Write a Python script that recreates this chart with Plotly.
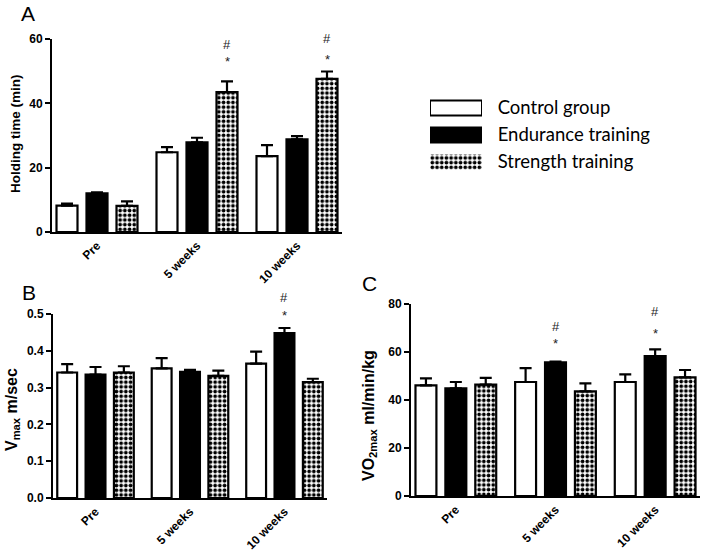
import plotly.graph_objects as go

W, H = 704, 557

categories = ["Pre", "5 weeks", "10 weeks"]
series_names = ["Control group", "Endurance training", "Strength training"]

# Panel A: holding time (min)
hold_control = [8.2, 24.8, 23.6]
hold_control_err = [0.6, 1.6, 3.4]
hold_endurance = [12.0, 27.9, 28.8]
hold_endurance_err = [0.3, 1.4, 1.0]
hold_strength = [8.1, 43.5, 47.6]
hold_strength_err = [1.4, 3.3, 2.3]

# Panel B: Vmax (m/sec)
vmax_control = [0.341, 0.352, 0.365]
vmax_control_err = [0.023, 0.028, 0.033]
vmax_endurance = [0.335, 0.343, 0.448]
vmax_endurance_err = [0.021, 0.005, 0.014]
vmax_strength = [0.341, 0.332, 0.315]
vmax_strength_err = [0.017, 0.014, 0.009]

# Panel C: VO2max (ml/min/kg)
vo2_control = [46.1, 47.5, 47.5]
vo2_control_err = [2.9, 5.8, 3.2]
vo2_endurance = [44.9, 55.7, 58.3]
vo2_endurance_err = [2.6, 0.3, 2.8]
vo2_strength = [46.4, 43.6, 49.4]
vo2_strength_err = [2.8, 3.3, 3.1]

# significance markers: (group index, series index, y of '*', y of '#')
sig_A = [(1, 2, 53.0, 58.4), (2, 2, 53.7, 60.2)]
sig_B = [(2, 1, 0.495, 0.546)]
sig_C = [(1, 1, 63.6, 70.5), (2, 1, 67.8, 76.8)]

fills = ["white", "black", "white"]
patterns = ["", "", "."]

TICKFONT = dict(family="Liberation Sans", size=12, color="black", weight="bold")
SIGFONT = dict(family="Liberation Sans", size=13, color="#222")

fig = go.Figure()

panels = [
    dict(ax="", vals=[hold_control, hold_endurance, hold_strength],
         errs=[hold_control_err, hold_endurance_err, hold_strength_err],
         px=(52, 342, 39, 232), yrange=[0, 60], dtick=20, fmt="",
         title="Holding time (min)", tsize=13.5, tpos=(15, 134), sig=sig_A),
    dict(ax="2", vals=[vmax_control, vmax_endurance, vmax_strength],
         errs=[vmax_control_err, vmax_endurance_err, vmax_strength_err],
         px=(53, 327, 314, 498), yrange=[0, 0.5], dtick=0.1, fmt=".1f",
         title="V<sub>max</sub> m/sec", tsize=16, tpos=(12, 410), sig=sig_B),
    dict(ax="3", vals=[vo2_control, vo2_endurance, vo2_strength],
         errs=[vo2_control_err, vo2_endurance_err, vo2_strength_err],
         px=(411, 700, 304, 496), yrange=[0, 80], dtick=20, fmt="",
         title="VO<sub>2max</sub> ml/min/kg", tsize=16, tpos=(369, 416), sig=sig_C),
]

offsets = [-0.3, 0.0, 0.3]

for p in panels:
    ax = p["ax"]
    x0, x1, y0, y1 = p["px"]
    for i in range(3):
        fig.add_trace(go.Bar(
            x=categories, y=p["vals"][i], name=series_names[i],
            xaxis="x" + ax, yaxis="y" + ax, showlegend=False,
            marker=dict(color=fills[i], line=dict(color="black", width=2.2),
                        pattern=dict(shape=patterns[i], fgcolor="black", bgcolor="white",
                                     size=4.7, solidity=0.5, fillmode="replace")),
            error_y=dict(type="data", array=p["errs"][i], arrayminus=[0] * 3,
                         symmetric=False, color="black", thickness=2.2, width=6),
        ))
    xa = dict(domain=[x0 / W, x1 / W], anchor="y" + ax, range=[-0.45, 2.45],
              showline=True, linecolor="black", linewidth=2, ticks="",
              tickangle=-45, tickfont=TICKFONT, showgrid=False, zeroline=False,
              type="category", automargin=False)
    ya = dict(domain=[1 - y1 / H, 1 - y0 / H], anchor="x" + ax, range=p["yrange"],
              dtick=p["dtick"], tickformat=p["fmt"], showline=True, linecolor="black",
              linewidth=2, ticks="outside", ticklen=5, tickwidth=2, tickcolor="black",
              tickfont=TICKFONT, showgrid=False, zeroline=False, automargin=False)
    fig.layout["xaxis" + ax] = xa
    fig.layout["yaxis" + ax] = ya
    tx, ty = p["tpos"]
    fig.add_annotation(x=tx / W, y=1 - ty / H, xref="paper", yref="paper",
                       text=p["title"], textangle=-90, showarrow=False,
                       xanchor="center", yanchor="middle",
                       font=dict(family="Liberation Sans", size=p["tsize"], color="black",
                                 weight="bold"))
    ppu = (y1 - y0) / (p["yrange"][1] - p["yrange"][0])
    for (g, s, ystar, yhash) in p["sig"]:
        fig.add_annotation(x=g + offsets[s], y=ystar, xref="x" + ax, yref="y" + ax,
                           text="*", showarrow=False, font=SIGFONT)
        fig.add_annotation(x=g + offsets[s], y=ystar, xref="x" + ax, yref="y" + ax,
                           text="#", showarrow=False, yshift=(yhash - ystar) * ppu,
                           font=SIGFONT)

# legend drawn as horizontal swatches on a hidden axis, labels as tick text
for i in range(3):
    fig.add_trace(go.Bar(
        x=[1], y=[series_names[i]], orientation="h", width=0.56, offsetgroup="leg",
        xaxis="x4", yaxis="y4", showlegend=False,
        marker=dict(color=fills[i],
                    line=dict(color="black" if i < 2 else "rgba(0,0,0,0)", width=2),
                    pattern=dict(shape=patterns[i], fgcolor="black", bgcolor="white",
                                 size=4.7, solidity=0.5, fillmode="replace")),
    ))
fig.layout["xaxis4"] = dict(domain=[430 / W, 482 / W], anchor="y4", range=[0, 1],
                            visible=False, fixedrange=True, automargin=False)
fig.layout["yaxis4"] = dict(domain=[1 - 175.5 / H, 1 - 94.5 / H], anchor="x4",
                            side="right", autorange="reversed", showline=False,
                            showgrid=False, zeroline=False, ticks="outside",
                            ticklen=11, tickcolor="rgba(0,0,0,0)", automargin=False,
                            categoryorder="array", categoryarray=series_names,
                            tickfont=dict(family="Lato", size=18.5, color="black"))

# panel letters
for letter, lx, ly in (("A", 28, 13), ("B", 29, 292), ("C", 370, 283)):
    fig.add_annotation(x=lx / W, y=1 - ly / H, xref="paper", yref="paper", text=letter,
                       xanchor="center", yanchor="middle", showarrow=False,
                       font=dict(family="Liberation Sans", size=21, color="black"))

fig.update_layout(width=W, height=H, margin=dict(l=0, r=0, t=0, b=0),
                  paper_bgcolor="white", plot_bgcolor="white",
                  barmode="group", bargap=0.1, bargroupgap=0.3)

fig.write_html("out.html", config={"displayModeBar": False},
               post_script="document.body.style.margin='0';")
